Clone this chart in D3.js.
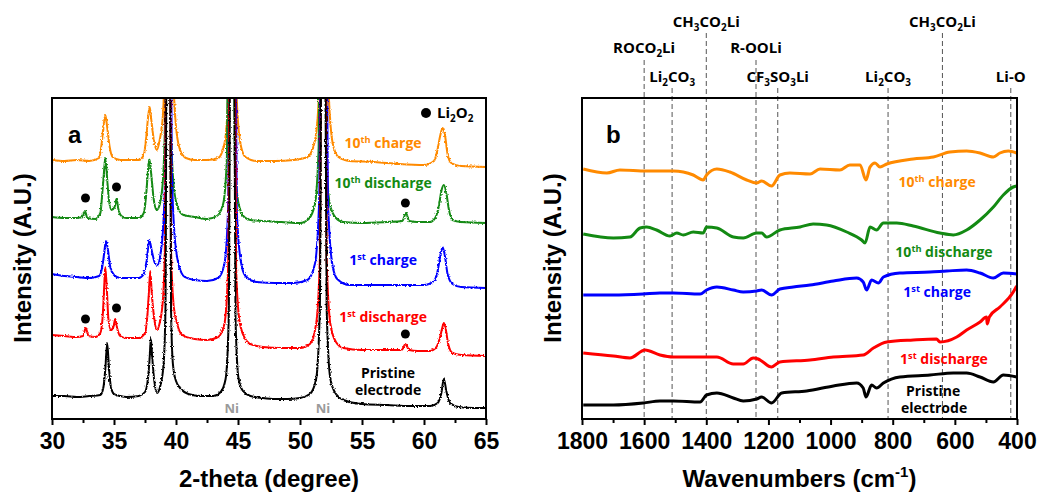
<!DOCTYPE html>
<html>
<head>
<meta charset="utf-8">
<script src="https://cdn.jsdelivr.net/npm/d3@7"></script>
<style>
  body { margin: 0; background: #fff; }
  svg { display: block; }
  .axis text { font-family: "Liberation Sans", Arial, sans-serif; font-weight: bold; font-size: 23px; fill: #000; }
  .axis line { stroke: #000; stroke-width: 2px; }
  .title { font-family: "Liberation Sans", Arial, sans-serif; font-weight: bold; font-size: 24px; }
  .lbl { font-family: "Open Sans", "Noto Sans", sans-serif; font-weight: 700; }
</style>
</head>
<body>
<svg id="chart" width="1037" height="493"></svg>
<script>
// ---- XRD patterns, [2-theta, intensity a.u.] ----
var pristineXRD = [[30,23],[31,23],[32,22],[33,23],[33.9,24],[34.15,32],[34.3,50],[34.45,76],[34.6,50],[34.75,32],[35,25],[35.5,23],[36,22],[37,23],[37.5,27],[37.75,42],[37.88,62],[37.97,81],[38.08,62],[38.25,38],[38.47,26],[38.75,34],[39.0,55],[39.15,110],[39.3,600],[39.45,600],[39.6,110],[39.75,55],[40.0,38],[40.4,30],[41,25],[42,23],[43,23],[43.6,27],[44.0,40],[44.25,100],[44.45,600],[44.6,600],[44.8,100],[45.05,40],[45.4,28],[46,23],[47,21],[48,20],[49,20],[50,21],[50.8,25],[51.3,40],[51.6,110],[51.8,600],[51.95,600],[52.15,110],[52.45,40],[52.9,25],[53.5,19],[55,15],[57,14],[59,13],[60.5,13],[61.1,16],[61.4,26],[61.6,40],[61.8,28],[62.1,16],[62.8,12],[64,11],[65,11]];
var discharge1XRD = [[30,84],[31,83],[32,82],[32.5,83],[32.72,91],[32.95,83],[33.5,82],[33.9,86],[34.1,105],[34.2,130],[34.3,152],[34.42,130],[34.55,100],[34.75,89],[34.95,92],[35.1,100],[35.25,91],[35.5,83],[36,81],[37,81],[37.5,86],[37.7,105],[37.82,128],[37.92,148],[38.05,125],[38.25,100],[38.45,89],[38.7,97],[38.95,120],[39.1,170],[39.3,700],[39.45,700],[39.6,170],[39.8,115],[40.1,95],[40.5,84],[41.5,80],[42.5,79],[43.4,82],[43.9,95],[44.2,150],[44.45,700],[44.6,700],[44.85,150],[45.1,100],[45.5,82],[46,75],[47,72],[48.5,71],[50,71],[50.8,75],[51.3,95],[51.6,160],[51.8,700],[51.95,700],[52.15,160],[52.45,95],[52.9,77],[53.5,71],[55,69],[57,69],[58.2,69],[58.5,75],[58.8,69],[59.5,68],[60.5,68],[61,72],[61.3,82],[61.45,90],[61.6,96],[61.75,90],[61.95,75],[62.3,66],[63,64],[65,63]];
var charge1XRD = [[30,145],[31,143],[32,142],[33,141],[33.8,143],[34.05,152],[34.2,165],[34.35,178],[34.5,170],[34.7,152],[35,144],[35.5,141],[36,141],[37,141],[37.4,145],[37.65,160],[37.85,179],[38.05,168],[38.3,156],[38.5,154],[38.75,165],[39.0,200],[39.15,260],[39.3,700],[39.5,700],[39.65,260],[39.85,190],[40.2,155],[40.7,142],[41.5,139],[42.5,138],[43.4,141],[43.9,155],[44.2,210],[44.45,700],[44.65,700],[44.9,210],[45.2,160],[45.6,143],[46.5,137],[48,136],[49.5,136],[50.6,139],[51.2,155],[51.55,220],[51.8,700],[52.0,700],[52.25,220],[52.6,155],[53,140],[54,134],[56,134],[58,134],[60,134],[60.8,138],[61.1,148],[61.3,162],[61.5,172],[61.7,162],[61.9,145],[62.3,135],[63,132],[65,131]];
var discharge10XRD = [[30,202],[31,201],[32,201],[32.45,202],[32.66,208],[32.85,201],[33.5,200],[33.9,206],[34.05,225],[34.18,245],[34.3,261],[34.42,245],[34.58,220],[34.8,209],[35.05,212],[35.2,220],[35.35,210],[35.6,203],[36,201],[37,201],[37.4,206],[37.6,225],[37.75,250],[37.85,260],[38.0,245],[38.2,220],[38.45,209],[38.7,215],[38.95,240],[39.1,290],[39.3,800],[39.45,800],[39.6,290],[39.8,235],[40.1,213],[40.6,204],[41.5,202],[42.5,200],[43.3,203],[43.8,215],[44.1,260],[44.35,800],[44.5,800],[44.75,260],[45.05,215],[45.5,202],[46,199],[47,198],[48.5,197],[50,196],[50.7,200],[51.2,215],[51.5,270],[51.7,800],[51.85,800],[52.1,270],[52.4,215],[52.9,201],[53.5,197],[55,196],[57,197],[58.25,198],[58.55,206],[58.8,198],[59.5,197],[60.5,197],[60.9,201],[61.2,213],[61.4,228],[61.6,234],[61.8,226],[62,210],[62.3,199],[63,197],[65,196]];
var charge10XRD = [[30,259],[31,258],[32,259],[33,258],[33.8,261],[34.0,275],[34.15,292],[34.3,304],[34.45,292],[34.65,272],[34.9,262],[35.5,259],[36,259],[37,259],[37.4,264],[37.6,282],[37.75,302],[37.88,312],[38.0,300],[38.2,280],[38.45,269],[38.7,280],[38.95,305],[39.1,360],[39.35,800],[39.5,800],[39.75,360],[39.95,300],[40.3,270],[40.8,261],[41.5,259],[42.5,259],[43.4,261],[43.9,275],[44.2,320],[44.45,800],[44.6,800],[44.9,320],[45.2,275],[45.6,262],[46.5,258],[48,258],[49.5,259],[50.6,262],[51.2,278],[51.55,330],[51.8,800],[52.0,800],[52.3,330],[52.65,275],[53.1,262],[54,258],[56,257],[58,255],[60,254],[60.8,258],[61.1,270],[61.3,283],[61.5,291],[61.7,283],[61.9,265],[62.2,256],[63,253],[65,252]];

// Li2O2 reflections marked with dots, [2-theta, intensity]
var li2o2Discharge1 = [[32.7,100],[35.2,111],[58.5,85]];
var li2o2Discharge10 = [[32.7,221],[35.2,232],[58.5,216]];
var niPeaks = [44.5, 51.85];

// ---- FTIR spectra, [wavenumber, intensity a.u.] ----
var pristineIR = [[1796,14],[1699,14],[1603,16],[1549,18],[1506,18],[1420,17],[1399,24],[1366,26],[1313,21],[1281,18],[1238,20],[1222,22],[1190,16],[1157,26],[1077,28],[991,33],[916,36],[895,31],[886,22],[868,34],[852,31],[830,36],[777,42],[680,44],[605,46],[562,46],[519,42],[476,37],[444,44],[401,42]];
var discharge1IR = [[1796,66],[1699,63],[1646,61],[1597,69],[1549,64],[1506,62],[1420,62],[1366,62],[1313,55],[1281,55],[1249,61],[1233,60],[1222,58],[1190,52],[1163,57],[1066,59],[991,62],[895,64],[862,71],[819,77],[734,79],[659,80],[648,77],[594,82],[562,89],[519,97],[498,102],[496,95],[489,102],[455,112],[412,127],[401,133]];
var charge1IR = [[1796,124],[1699,124],[1603,125],[1549,126],[1506,126],[1420,125],[1399,129],[1366,132],[1313,129],[1281,127],[1238,128],[1222,129],[1190,124],[1163,130],[1120,132],[1066,134],[991,138],[916,141],[895,137],[884,129],[868,139],[846,136],[830,142],[777,146],[680,147],[626,148],[562,149],[519,146],[476,141],[444,146],[401,145]];
var discharge10IR = [[1796,185],[1699,181],[1646,182],[1613,191],[1592,192],[1560,189],[1517,183],[1495,186],[1474,184],[1442,187],[1410,186],[1399,192],[1366,191],[1313,182],[1281,181],[1238,186],[1222,186],[1206,182],[1163,189],[1098,192],[1056,195],[1013,194],[948,187],[900,179],[889,176],[873,192],[852,189],[830,196],[787,196],[734,193],[648,186],[605,184],[562,189],[519,199],[476,212],[444,224],[412,232],[401,233]];
var charge10IR = [[1796,250],[1720,246],[1678,249],[1592,248],[1506,248],[1442,244],[1410,239],[1399,244],[1366,250],[1324,247],[1270,239],[1238,236],[1222,238],[1190,233],[1163,244],[1131,246],[1066,245],[1034,250],[970,249],[938,254],[905,254],[886,239],[873,252],[857,256],[841,252],[819,255],[734,260],[669,262],[616,267],[562,268],[519,266],[476,262],[455,266],[428,268],[401,266]];

// band assignments (wavenumber, label, row)
var bandWn = [1600, 1510, 1400, 1240, 1170, 815, 640, 420];
var bandLabel = [
  [["ROCO",""],["2","sub"],["Li",""]],
  [["Li",""],["2","sub"],["CO",""],["3","sub"]],
  [["CH",""],["3","sub"],["CO",""],["2","sub"],["Li",""]],
  [["R-OOLi",""]],
  [["CF",""],["3","sub"],["SO",""],["3","sub"],["Li",""]],
  [["Li",""],["2","sub"],["CO",""],["3","sub"]],
  [["CH",""],["3","sub"],["CO",""],["2","sub"],["Li",""]],
  [["Li-O",""]]
];
var bandRow = [1, 2, 0, 1, 2, 2, 0, 2];

var seriesNames = [
  [["Pristine",""]],
  [["1",""],["st","sup"],[" discharge",""]],
  [["1",""],["st","sup"],[" charge",""]],
  [["10",""],["th","sup"],[" discharge",""]],
  [["10",""],["th","sup"],[" charge",""]]
];
var colours = ["#000000", "#ff0000", "#0000ff", "#138a13", "#ff8a00"];
var xrdSeries = [pristineXRD, discharge1XRD, charge1XRD, discharge10XRD, charge10XRD];
var irSeries = [pristineIR, discharge1IR, charge1IR, discharge10IR, charge10IR];

var svg = d3.select("#chart");
var boxA = {left: 52, right: 486, top: 98, bottom: 419},
    boxB = {left: 582, right: 1017, top: 98, bottom: 419};

var xA = d3.scaleLinear().domain([30, 65]).range([boxA.left, boxA.right]),
    yA = d3.scaleLinear().domain([0, 321]).range([boxA.bottom, boxA.top]);
var xB = d3.scaleLinear().domain([1800, 400]).range([boxB.left, boxB.right]),
    yB = d3.scaleLinear().domain([0, 321]).range([boxB.bottom, boxB.top]);

var defs = svg.append("defs");
[["clipA", boxA], ["clipB", boxB]].forEach(function(c) {
  defs.append("clipPath").attr("id", c[0]).append("rect")
    .attr("x", c[1].left).attr("y", c[1].top)
    .attr("width", c[1].right - c[1].left).attr("height", c[1].bottom - c[1].top);
});
var grain = defs.append("filter").attr("id", "grain")
  .attr("filterUnits", "userSpaceOnUse").attr("x", 0).attr("y", 0).attr("width", 1037).attr("height", 493);
grain.append("feTurbulence").attr("type", "fractalNoise").attr("baseFrequency", "0.7 0.5")
  .attr("numOctaves", 1).attr("seed", 4).attr("result", "n");
grain.append("feDisplacementMap").attr("in", "SourceGraphic").attr("in2", "n")
  .attr("scale", 3).attr("xChannelSelector", "R").attr("yChannelSelector", "G");

// writes text made of normal / superscript / subscript pieces
function rich(sel, parts, size) {
  var shift = 0;
  parts.forEach(function(p) {
    var t = sel.append("tspan").text(p[0]);
    var want = p[1] == "sup" ? -size * 0.38 : p[1] == "sub" ? size * 0.28 : 0;
    t.attr("dy", want - shift);
    if (p[1]) t.attr("font-size", size * 0.66);
    shift = want;
  });
  return sel;
}

function axisX(x, box, majors, minors) {
  svg.append("g").attr("class", "axis").attr("transform", "translate(0," + box.bottom + ")")
    .call(d3.axisBottom(x).tickValues(minors).tickSize(4).tickFormat(""))
    .select(".domain").remove();
  svg.append("g").attr("class", "axis").attr("transform", "translate(0," + box.bottom + ")")
    .call(d3.axisBottom(x).tickValues(majors).tickSize(6).tickPadding(8).tickFormat(d3.format("d")))
    .select(".domain").remove();
  svg.append("rect").attr("x", box.left).attr("y", box.top)
    .attr("width", box.right - box.left).attr("height", box.bottom - box.top)
    .attr("fill", "none").attr("stroke", "#000").attr("stroke-width", 2);
}

// ---------- panel a ----------
var lineA = d3.line().x(function(d) { return xA(d[0]); }).y(function(d) { return yA(d[1]); }).curve(d3.curveMonotoneX);
var plotA = svg.append("g").attr("clip-path", "url(#clipA)").append("g").attr("filter", "url(#grain)");
for (var i = xrdSeries.length - 1; i >= 0; i--) {
  plotA.append("path").datum(xrdSeries[i]).attr("d", lineA)
    .attr("fill", "none").attr("stroke", colours[i]).attr("stroke-width", 2);
}
svg.append("g").selectAll("circle").data(li2o2Discharge1.concat(li2o2Discharge10)).enter()
  .append("circle").attr("cx", function(d) { return xA(d[0]); }).attr("cy", function(d) { return yA(d[1]); })
  .attr("r", 4.5).attr("fill", "#000");
svg.append("g").selectAll("text").data(niPeaks).enter().append("text")
  .attr("class", "lbl").attr("x", function(d) { return xA(d); }).attr("y", 413)
  .attr("text-anchor", "middle").attr("font-size", 13).attr("font-weight", 400).attr("fill", "#9a9a9a")
  .text("Ni");
axisX(xA, boxA, d3.range(30, 66, 5), d3.range(32.5, 65, 5));

var labA = [[57.1, 41], [56.7, 97], [56.7, 154], [56.7, 231], [56.7, 271]];
seriesNames.forEach(function(n, i) {
  var t = svg.append("text").attr("class", "lbl").attr("text-anchor", "middle")
    .attr("x", xA(labA[i][0])).attr("y", yA(labA[i][1])).attr("font-size", 14).attr("fill", colours[i]);
  rich(t, n, 14);
});
svg.append("text").attr("class", "lbl").attr("text-anchor", "middle").attr("font-size", 14)
  .attr("x", xA(57.1)).attr("y", yA(24)).text("electrode");

svg.append("circle").attr("cx", 426).attr("cy", 113).attr("r", 5).attr("fill", "#000");
rich(svg.append("text").attr("class", "lbl").attr("x", 437).attr("y", 118).attr("font-size", 15),
  [["Li",""],["2","sub"],["O",""],["2","sub"]], 15);

svg.append("text").attr("class", "title").attr("x", 68).attr("y", 143).attr("font-size", 34).text("a");
svg.append("text").attr("class", "title").attr("text-anchor", "middle")
  .attr("x", (boxA.left + boxA.right) / 2).attr("y", 487).text("2-theta (degree)");
svg.append("text").attr("class", "title").attr("text-anchor", "middle")
  .attr("transform", "translate(31,258) rotate(-90)").text("Intensity (A.U.)");

// ---------- panel b ----------
var rowTextY = [27, 53, 82], rowLineY = [33, 60, 88];
var bands = svg.append("g");
bandWn.forEach(function(w, i) {
  bands.append("line").attr("x1", xB(w)).attr("x2", xB(w))
    .attr("y1", rowLineY[bandRow[i]]).attr("y2", boxB.bottom)
    .attr("stroke", "#555").attr("stroke-width", 1).attr("stroke-dasharray", "5,3");
  rich(bands.append("text").attr("class", "lbl").attr("text-anchor", "middle")
    .attr("x", xB(w)).attr("y", rowTextY[bandRow[i]]).attr("font-size", 15), bandLabel[i], 15);
});

var lineB = d3.line().x(function(d) { return xB(d[0]); }).y(function(d) { return yB(d[1]); }).curve(d3.curveMonotoneX);
var plotB = svg.append("g").attr("clip-path", "url(#clipB)");
irSeries.forEach(function(s, i) {
  plotB.append("path").datum(s).attr("d", lineB)
    .attr("fill", "none").attr("stroke", colours[i]).attr("stroke-width", 3).attr("stroke-linejoin", "round");
});
axisX(xB, boxB, d3.range(1800, 399, -200), d3.range(1700, 400, -200));

var labB = [[670, 23], [635, 55], [657, 122], [635, 162], [657, 232]];
seriesNames.forEach(function(n, i) {
  var t = svg.append("text").attr("class", "lbl").attr("text-anchor", "middle")
    .attr("x", xB(labB[i][0])).attr("y", yB(labB[i][1])).attr("font-size", 14).attr("fill", colours[i]);
  rich(t, n, 14);
});
svg.append("text").attr("class", "lbl").attr("text-anchor", "middle").attr("font-size", 14)
  .attr("x", xB(667)).attr("y", yB(6)).text("electrode");

svg.append("text").attr("class", "title").attr("x", 606).attr("y", 143).attr("font-size", 34).text("b");
var tb = svg.append("text").attr("class", "title").attr("text-anchor", "middle")
  .attr("x", (boxB.left + boxB.right) / 2).attr("y", 487);
tb.append("tspan").text("Wavenumbers (cm");
tb.append("tspan").attr("dy", -10).attr("font-size", 15).text("-1");
tb.append("tspan").attr("dy", 10).text(")");
svg.append("text").attr("class", "title").attr("text-anchor", "middle")
  .attr("transform", "translate(561,258) rotate(-90)").text("Intensity (A.U.)");
</script>
</body>
</html>
